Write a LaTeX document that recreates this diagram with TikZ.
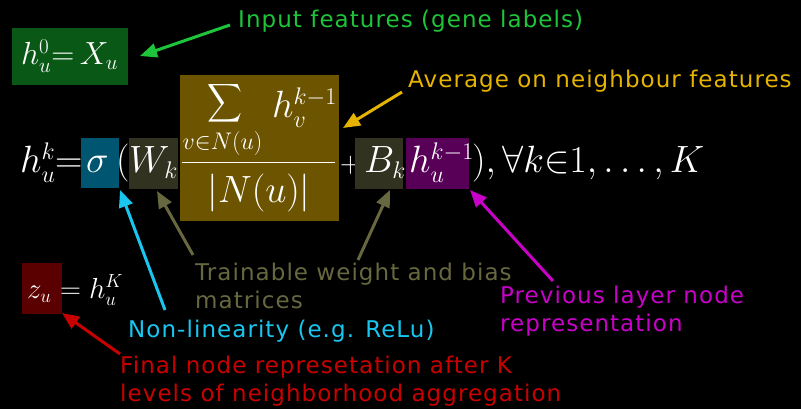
\RequirePackage{fix-cm}
\documentclass[tikz,border=0pt]{standalone}
\usepackage{graphicx}
\usepackage{fontspec}
\newfontfamily\dv[LetterSpace=4.6]{DejaVu Sans}
\usetikzlibrary{arrows.meta}
\DeclareMathSizes{38}{38}{24}{18}
\DeclareMathSizes{32}{32}{21}{15}
\DeclareMathSizes{29}{29}{19}{14}
\DeclareMathSizes{24}{24}{17}{12}
\definecolor{cgreen}{RGB}{30,196,58}
\definecolor{cgreenbox}{RGB}{10,88,22}
\definecolor{cyellow}{RGB}{230,180,0}
\definecolor{cfracbox}{RGB}{108,84,0}
\definecolor{ctealbox}{RGB}{0,86,112}
\definecolor{cwbox}{RGB}{50,50,32}
\definecolor{cpurplebox}{RGB}{88,0,88}
\definecolor{colive}{RGB}{104,104,64}
\definecolor{ccyan}{RGB}{24,198,240}
\definecolor{cmagenta}{RGB}{200,0,200}
\definecolor{cred}{RGB}{200,0,0}
\definecolor{credbox}{RGB}{90,0,0}
\tikzset{
  mth/.style={inner sep=0pt, anchor=base west, text=white, font=\fontsize{38}{44}\selectfont},
  mths/.style={inner sep=0pt, anchor=base west, text=white, font=\fontsize{32}{38}\selectfont},
  mthz/.style={inner sep=0pt, anchor=base west, text=white, font=\fontsize{29}{34}\selectfont},
  mthl/.style={inner sep=0pt, anchor=base, text=white, font=\fontsize{24}{28}\selectfont},
  hbox/.style={inner sep=0pt, anchor=north west, draw=none},
  lbl/.style={inner sep=0pt, anchor=base west, align=left, font=\dv\fontsize{23}{27.5}\selectfont},
  arr/.style={line width=3pt, -{Triangle[length=17pt,width=14pt]}},
}
\begin{document}
\begin{tikzpicture}[x=1pt,y=-1pt]
\path[use as bounding box, fill=black] (0,0) rectangle (801,409);
% plus sign (partly covered by the B box, as in the reference)
\node[mthz] (pl) at (340,173) {$+$};
% boxes
\node[hbox, fill=cgreenbox, minimum width=116pt, minimum height=57pt] (gbox) at (12,28) {};
\node[hbox, fill=ctealbox, minimum width=38pt, minimum height=50pt] (sbox) at (81,138) {};
\node[hbox, fill=cwbox, minimum width=49pt, minimum height=51pt] (wbox) at (129,138) {};
\node[hbox, fill=cfracbox, minimum width=159pt, minimum height=146pt] (fbox) at (180,75) {};
\node[hbox, fill=cwbox, minimum width=48pt, minimum height=51pt] (bbox) at (355,138) {};
\node[hbox, fill=cpurplebox, minimum width=63pt, minimum height=51pt] (pbox) at (406,138) {};
\node[hbox, fill=credbox, minimum width=40pt, minimum height=51pt] (zbox) at (22,263) {};
% math
\node[mths] (h0) at (21,65) {$h_u^0{=}\,X_u$};
\node[mth] (hk) at (20,173) {$h_u^k$};
\node[mth] (eq) at (55,173) {$=$};
\node[mth] (sig) at (86,173) {$\sigma$};
\node[mth] (lp) at (116,173) {$($};
\node[mth] (wk) at (129,173) {$W_k$};
% fraction, built piece by piece
\node[inner sep=0pt, anchor=north west, text=white] (sum) at (207,82) {\resizebox*{35pt}{43pt}{$\displaystyle\sum$}};
\node[mthl] (lim) at (222.5,150) {$v{\in}N(u)$};
\node[mth] (hv) at (272,118) {$h_v^{k-1}$};
\draw[white, line width=1.6pt] (182,162.5) -- (335,162.5);
\node[mth, anchor=base] (den) at (259,202) {$|N(u)|$};
\node[mth] (bk) at (364,173) {$B_k$};
\node[mth] (hk1) at (409,173) {$h_u^{k-1}$};
\node[mth] (rest) at (472,173) {$),\forall k{\in}1,\ldots,K$};
\node[mthz] (zu) at (27,298) {$z_u$};
\node[mthz] (zeq) at (60,298) {$=h_u^K$};
% labels
\node[lbl, text=cgreen] (tin) at (238,28) {Input features (gene labels)};
\node[lbl, text=cyellow] (tavg) at (408,88) {Average on neighbour features};
\node[lbl, text=colive] (ttr) at (195,308) {Trainable weight and bias\\matrices};
\node[lbl, text=ccyan] (tnl) at (128,337) {Non-linearity (e.g. ReLu)};
\node[lbl, text=cmagenta] (tprev) at (500,331) {Previous layer node\\representation};
\node[lbl, text=cred] (tfin) at (120,401) {Final node represetation after K\\levels of neighborhood aggregation};
% arrow ends
\coordinate (gT) at (230,25);  \coordinate (gH) at (140,56);
\coordinate (yT) at (402,92);  \coordinate (yH) at (343,128);
\coordinate (cT) at (165,310); \coordinate (cH) at (120,190);
\coordinate (o1T) at (193,255); \coordinate (o1H) at (157,191);
\coordinate (o2T) at (358,260); \coordinate (o2H) at (390,190);
\coordinate (mT) at (553,281); \coordinate (mH) at (470,190);
\coordinate (rT) at (120,354); \coordinate (rH) at (62,313);
\draw[arr, cgreen] (gT) -- (gH);
\draw[arr, cyellow] (yT) -- (yH);
\draw[arr, ccyan] (cT) -- (cH);
\draw[arr, colive] (o1T) -- (o1H);
\draw[arr, colive] (o2T) -- (o2H);
\draw[arr, cmagenta] (mT) -- (mH);
\draw[arr, cred] (rT) -- (rH);
\end{tikzpicture}
\end{document}
